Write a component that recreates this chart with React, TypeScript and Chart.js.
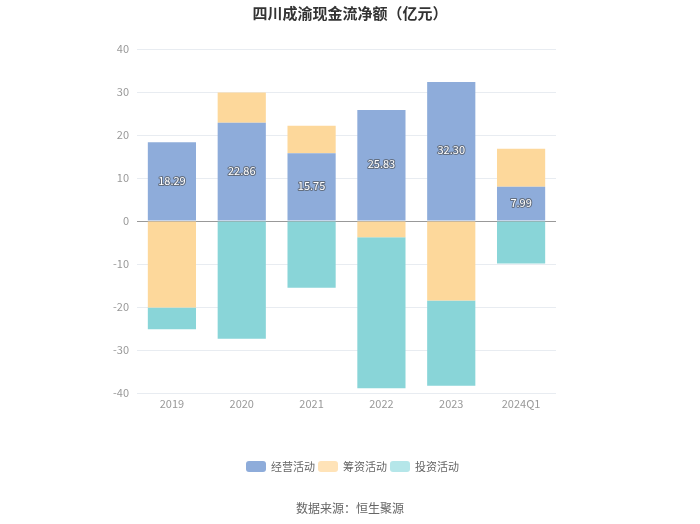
import React, { useEffect, useRef } from "react";
import { Chart, registerables } from "chart.js";

Chart.register(...registerables);

const categories = ["2019", "2020", "2021", "2022", "2023", "2024Q1"];
const operating = [18.29, 22.86, 15.75, 25.83, 32.3, 7.99];
const financing = [-20.1, 7.0, 6.4, -3.8, -18.5, 8.8];
const investing = [-5.1, -27.4, -15.5, -35.1, -19.8, -9.9];
const yTicks = [40, 30, 20, 10, 0, -10, -20, -30, -40];

const FONT = '"Noto Sans CJK SC", "Noto Sans", sans-serif';
const colors = {
  op: "#8eacda",
  fin: "#fdd89b",
  inv: "#89d5d8",
};
const legendItems = [
  { label: "经营活动", color: "#8eacda" },
  { label: "筹资活动", color: "#ffe3b8" },
  { label: "投资活动", color: "#b5e6e9" },
];

const decorPlugin = {
  id: "decor",
  afterDatasetsDraw(chart: any) {
    const ctx = chart.ctx;
    const meta = chart.getDatasetMeta(0);
    ctx.save();
    ctx.font = `11px ${FONT}`;
    ctx.textAlign = "center";
    ctx.textBaseline = "middle";
    ctx.lineJoin = "round";
    meta.data.forEach((bar: any, i: number) => {
      const v = operating[i];
      const y = (bar.y + bar.base) / 2 - 1;
      const txt = v.toFixed(2);
      ctx.lineWidth = 2;
      ctx.strokeStyle = "rgba(70,70,70,0.6)";
      ctx.strokeText(txt, bar.x, y);
      ctx.fillStyle = "#ffffff";
      ctx.fillText(txt, bar.x, y);
    });
    ctx.restore();
  },
  afterDraw(chart: any) {
    const ctx = chart.ctx;
    ctx.save();
    ctx.font = `bold 15px ${FONT}`;
    ctx.fillStyle = "#333333";
    ctx.textAlign = "center";
    ctx.textBaseline = "middle";
    ctx.fillText("四川成渝现金流净额（亿元）", 350, 13);
    ctx.font = `12px ${FONT}`;
    ctx.fillStyle = "#666666";
    ctx.fillText("数据来源：恒生聚源", 350, 508);
    ctx.font = `11px ${FONT}`;
    ctx.textAlign = "left";
    const starts = [246, 318, 390];
    legendItems.forEach((it, i) => {
      const x = starts[i];
      ctx.fillStyle = it.color;
      const r = 3;
      const w = 20, h = 11, y = 461;
      ctx.beginPath();
      ctx.moveTo(x + r, y);
      ctx.arcTo(x + w, y, x + w, y + h, r);
      ctx.arcTo(x + w, y + h, x, y + h, r);
      ctx.arcTo(x, y + h, x, y, r);
      ctx.arcTo(x, y, x + w, y, r);
      ctx.closePath();
      ctx.fill();
      ctx.fillStyle = "#666666";
      ctx.fillText(it.label, x + 25, 467);
    });
    ctx.restore();
  },
};

export default function App() {
  const ref = useRef<HTMLCanvasElement>(null);
  useEffect(() => {
    document.body.style.margin = "0";
    const chart = new Chart(ref.current!, {
      type: "bar",
      data: {
        labels: categories,
        datasets: [
          { label: "经营活动", data: operating, backgroundColor: colors.op, stack: "s" },
          { label: "筹资活动", data: financing, backgroundColor: colors.fin, stack: "s" },
          { label: "投资活动", data: investing, backgroundColor: colors.inv, stack: "s" },
        ],
      },
      options: {
        animation: false,
        responsive: false,
        layout: { padding: { top: 49, bottom: 107, left: 0, right: 144 } },
        plugins: {
          legend: { display: false },
          title: { display: false },
          tooltip: { enabled: false },
        },
        datasets: { bar: { barPercentage: 0.69, categoryPercentage: 1.0 } },
        scales: {
          x: {
            stacked: true,
            grid: { display: false, drawTicks: false },
            border: { display: false },
            ticks: { color: "#999999", font: { size: 11, family: FONT }, padding: 4 },
            afterFit: (s: any) => { s.height = 24; },
          },
          y: {
            stacked: true,
            min: -40,
            max: 40,
            afterBuildTicks: (s: any) => { s.ticks = yTicks.map((v) => ({ value: v })); },
            grid: {
              drawTicks: false,
              color: (c: any) => (c.tick && c.tick.value === 0 ? "#999999" : "#e8ecf1"),
              lineWidth: 1,
            },
            border: { display: false },
            ticks: { color: "#999999", font: { size: 11, family: FONT }, padding: 8 },
            afterFit: (s: any) => { s.width = 137; },
          },
        },
      },
      plugins: [decorPlugin],
    });
    return () => chart.destroy();
  }, []);
  return <canvas ref={ref} width={700} height={524} style={{ display: "block" }} />;
}
